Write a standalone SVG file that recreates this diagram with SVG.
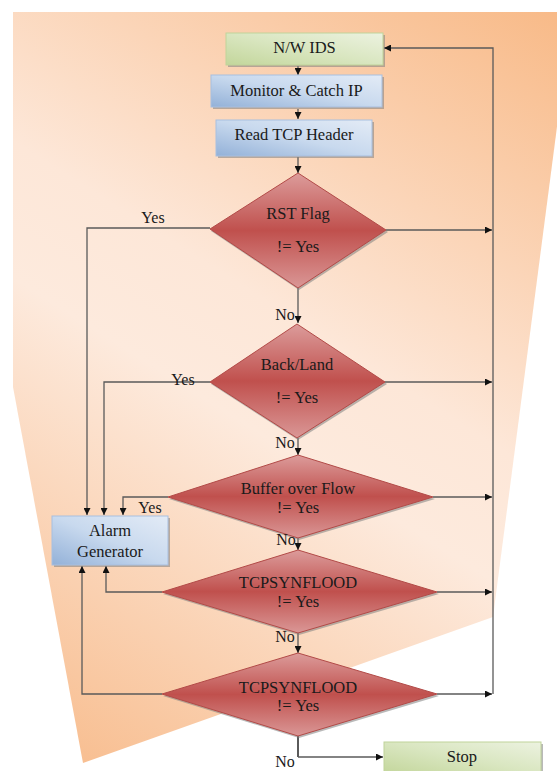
<svg xmlns="http://www.w3.org/2000/svg" width="557" height="771" viewBox="0 0 557 771">
<defs>
<linearGradient id="bg" gradientUnits="userSpaceOnUse" x1="557" y1="12" x2="83" y2="763">
<stop offset="0" stop-color="#f8ba88"/>
<stop offset="0.45" stop-color="#fde7d8"/>
<stop offset="0.58" stop-color="#fdeadd"/>
<stop offset="1" stop-color="#f8bf92"/>
</linearGradient>
<linearGradient id="blue" x1="0" y1="1" x2="1" y2="0">
<stop offset="0" stop-color="#93b1d8"/>
<stop offset="0.5" stop-color="#c8d9ee"/>
<stop offset="1" stop-color="#e3ebf6"/>
</linearGradient>
<linearGradient id="green" x1="0" y1="1" x2="1" y2="0">
<stop offset="0" stop-color="#c3d69b"/>
<stop offset="0.5" stop-color="#d9e6c0"/>
<stop offset="1" stop-color="#ecf2e0"/>
</linearGradient>
<linearGradient id="red" x1="0" y1="0" x2="0" y2="1">
<stop offset="0" stop-color="#dc9c9b"/>
<stop offset="0.5" stop-color="#c0504d"/>
<stop offset="1" stop-color="#da9796"/>
</linearGradient>
<marker id="arr" viewBox="0 0 10 10" refX="10" refY="5" markerWidth="7" markerHeight="7" markerUnits="userSpaceOnUse" orient="auto">
<path d="M0,0 L10,5 L0,10 z" fill="#111"/>
</marker>
</defs>
<style>
.t{font-family:"Liberation Serif","Times New Roman",serif;font-size:16.5px;fill:#1a1a1a;text-anchor:middle}
.l{font-family:"Liberation Serif","Times New Roman",serif;font-size:16px;fill:#1a1a1a;text-anchor:middle}
.c{fill:none;stroke:#5a5a5a;stroke-width:1.3}
.a{fill:none;stroke:#5a5a5a;stroke-width:1.3;marker-end:url(#arr)}
.sh{fill:#7f7f7f;opacity:0.55}
.bb{fill:url(#blue);stroke:#a8bfdf;stroke-width:1}
.gb{fill:url(#green);stroke:#c0d39a;stroke-width:1}
.dm{fill:url(#red);stroke:#b24a47;stroke-width:1}
</style>
<polygon points="13,12 572,12 493,617 83,763 13,387" fill="url(#bg)"/>

<g id="connectors">
<path class="a" d="M298,66 V75"/>
<path class="a" d="M298,109 V119"/>
<path class="a" d="M298,157 V173"/>
<path class="a" d="M298,288 V323"/>
<path class="a" d="M298,438 V455"/>
<path class="a" d="M298,538 V550"/>
<path class="a" d="M298,633 V653"/>
<path class="c" d="M298,736 V757" style="stroke-width:2"/>
<path class="a" d="M298,757 H383"/>
<path class="a" d="M210,228 H87 V515"/>
<path class="a" d="M210,382 H104 V515"/>
<path class="a" d="M168,497 H123 V515"/>
<path class="a" d="M162,592 H106 V566"/>
<path class="a" d="M162,694 H82 V566"/>
<path class="a" d="M386,230 H492"/>
<path class="a" d="M385,382 H492"/>
<path class="a" d="M433,497 H492"/>
<path class="a" d="M437,592 H492"/>
<path class="a" d="M437,694 H492"/>
<path class="a" d="M493,694 V48 H384"/>
</g>

<g id="nwids">
<rect class="sh" x="228" y="35" width="157" height="32"/>
<rect class="gb" x="226" y="33" width="157" height="32"/>
<text class="t" x="304.5" y="53">N/W IDS</text>
</g>
<g id="monitor">
<rect class="sh" x="213" y="77" width="171" height="32"/>
<rect class="bb" x="211" y="75" width="171" height="32"/>
<text class="t" x="296.5" y="96">Monitor &amp; Catch IP</text>
</g>
<g id="readtcp">
<rect class="sh" x="218" y="122" width="156" height="36"/>
<rect class="bb" x="216" y="120" width="156" height="36"/>
<text class="t" x="294" y="140">Read TCP Header</text>
</g>
<g id="rst">
<polygon class="sh" points="299,175 388,232 299,290 211,231"/>
<polygon class="dm" points="298,173 386,230 298,288 210,229"/>
<text class="t" x="298" y="219">RST Flag</text>
<text class="t" x="298" y="252">!= Yes</text>
</g>
<g id="backland">
<polygon class="sh" points="298,326 387,384 298,440 211,384"/>
<polygon class="dm" points="297,324 385,382 297,438 210,382"/>
<text class="t" x="297" y="370">Back/Land</text>
<text class="t" x="297" y="403">!= Yes</text>
</g>
<g id="buffer">
<polygon class="sh" points="299,457 435,499 299,540 169,499"/>
<polygon class="dm" points="298,455 433,497 298,538 168,497"/>
<text class="t" x="298" y="494">Buffer over Flow</text>
<text class="t" x="298" y="513">!= Yes</text>
</g>
<g id="tcpsyn1">
<polygon class="sh" points="299,552 439,594 299,635 163,594"/>
<polygon class="dm" points="298,550 437,592 298,633 162,592"/>
<text class="t" x="298" y="588">TCPSYNFLOOD</text>
<text class="t" x="298" y="607">!= Yes</text>
</g>
<g id="tcpsyn2">
<polygon class="sh" points="299,655 439,696 299,738 163,696"/>
<polygon class="dm" points="298,653 437,694 298,736 162,694"/>
<text class="t" x="298" y="693">TCPSYNFLOOD</text>
<text class="t" x="298" y="711">!= Yes</text>
</g>
<g id="alarm">
<rect class="sh" x="54" y="518" width="116" height="49"/>
<rect class="bb" x="52" y="516" width="116" height="49"/>
<text class="t" x="110" y="536">Alarm</text>
<text class="t" x="110" y="557">Generator</text>
</g>
<g id="stop">
<rect class="sh" x="386" y="744" width="157" height="32"/>
<rect class="gb" x="384" y="742" width="157" height="32"/>
<text class="t" x="462" y="762">Stop</text>
</g>

<g id="labels">
<text class="l" x="153" y="223">Yes</text>
<text class="l" x="183" y="385">Yes</text>
<text class="l" x="150" y="513">Yes</text>
<text class="l" x="285" y="320">No</text>
<text class="l" x="285" y="448">No</text>
<text class="l" x="286" y="545">No</text>
<text class="l" x="285" y="642">No</text>
<text class="l" x="285" y="767">No</text>
</g>
</svg>
